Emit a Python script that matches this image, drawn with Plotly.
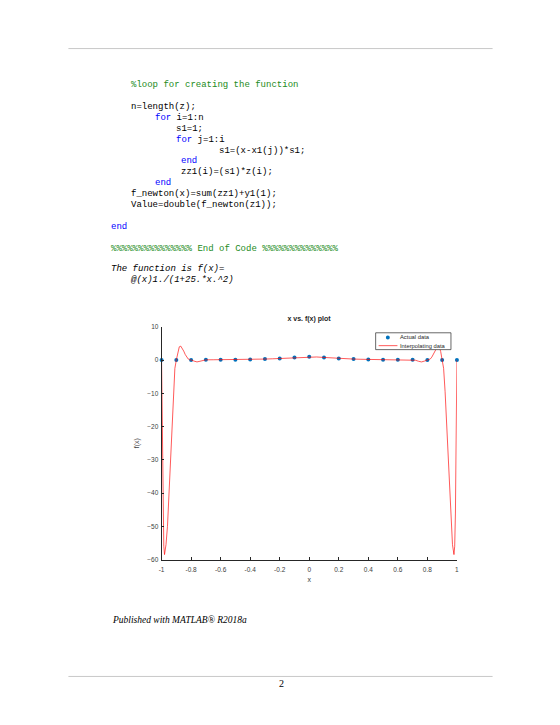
import plotly.graph_objects as go

W, H = 560, 725

# ---------------- data ----------------
x_nodes = [-1.0, -0.9, -0.8, -0.7, -0.6, -0.5, -0.4, -0.3, -0.2, -0.1, 0.0,
           0.1, 0.2, 0.3, 0.4, 0.5, 0.6, 0.7, 0.8, 0.9, 1.0]
y_nodes = [0.0385, 0.0471, 0.0588, 0.0755, 0.1, 0.1379, 0.2, 0.3077, 0.5, 0.8, 1.0,
           0.8, 0.5, 0.3077, 0.2, 0.1379, 0.1, 0.0755, 0.0588, 0.0471, 0.0385]

x_interp = [-1.0, -0.995, -0.99, -0.985, -0.98, -0.97, -0.96, -0.95, -0.94, -0.93,
            -0.92, -0.91, -0.9, -0.89, -0.88, -0.87, -0.86, -0.85, -0.84, -0.83,
            -0.82, -0.81, -0.8, -0.78, -0.76, -0.74, -0.72, -0.7, -0.65, -0.6,
            -0.55, -0.5, -0.45, -0.4, -0.35, -0.3, -0.25, -0.2, -0.15, -0.1,
            -0.05, 0.0, 0.05, 0.1, 0.15, 0.2, 0.25, 0.3, 0.35, 0.4,
            0.45, 0.5, 0.55, 0.6, 0.65, 0.7, 0.72, 0.74, 0.76, 0.78,
            0.8, 0.81, 0.82, 0.83, 0.84, 0.85, 0.86, 0.87, 0.88, 0.89,
            0.9, 0.91, 0.92, 0.93, 0.94, 0.95, 0.96, 0.97, 0.98, 0.985,
            0.99, 0.995, 1.0]
y_interp = [0.04, -28, -46, -56, -58.5, -55.5, -50, -41, -30, -19,
            -9.5, -2.5, 0.05, 2.6, 4.0, 4.2, 3.6, 2.7, 1.7, 0.9,
            0.35, 0.1, 0.06, -0.3, -0.55, -0.35, -0.05, 0.08, 0.1, 0.1,
            0.12, 0.14, 0.16, 0.2, 0.25, 0.31, 0.39, 0.5, 0.64, 0.8,
            0.94, 1.0, 0.94, 0.8, 0.64, 0.5, 0.39, 0.31, 0.25, 0.2,
            0.16, 0.14, 0.12, 0.1, 0.1, 0.08, -0.05, -0.35, -0.55, -0.3,
            0.06, 0.1, 0.35, 0.9, 1.7, 2.7, 3.6, 4.2, 4.0, 2.6,
            0.05, -2.5, -9.5, -19, -30, -41, -50, -55.5, -58.5, -56,
            -46, -28, 0.04]

x_ticks = [-1, -0.8, -0.6, -0.4, -0.2, 0, 0.2, 0.4, 0.6, 0.8, 1]
x_tick_labels = ["-1", "-0.8", "-0.6", "-0.4", "-0.2", "0", "0.2", "0.4", "0.6", "0.8", "1"]
y_ticks = [-60, -50, -40, -30, -20, -10, 0, 10]
legend_names = ["Actual data", "Interpolating data"]

GREEN = "#228B22"
BLUE = "#0000FF"
code_lines = [
    (130, 82, "%loop for creating the function", "green"),
    (130, 104, "n=length(z);", "plain"),
    (154, 115, f'<span style="color:{BLUE}">for</span> i=1:n', "plain"),
    (176, 126, "s1=1;", "plain"),
    (176, 137, f'<span style="color:{BLUE}">for</span> j=1:i', "plain"),
    (219, 148, "s1=(x-x1(j))*s1;", "plain"),
    (181, 159, "end", "blue"),
    (181, 170, "zz1(i)=(s1)*z(i);", "plain"),
    (154, 181, "end", "blue"),
    (130, 192, "f_newton(x)=sum(zz1)+y1(1);", "plain"),
    (130, 203, "Value=double(f_newton(z1));", "plain"),
    (110, 225, "end", "blue"),
    (110, 247, "%%%%%%%%%%%%%%% End of Code %%%%%%%%%%%%%%", "green"),
    (110, 268, "<i>The function is f(x)=</i>", "plain"),
    (130, 279, "<i>@(x)1./(1+25.*x.^2)</i>", "plain"),
]

MARKER_COLOR = "#0072BD"
LINE_COLOR = "rgba(255,0,0,0.65)"

def px(x):
    return x / W

def py(y):
    return 1 - y / H

fig = go.Figure()
fig.add_trace(go.Scatter(
    x=x_nodes, y=y_nodes, mode="markers", name=legend_names[0],
    marker=dict(color=MARKER_COLOR, size=4), cliponaxis=False))
fig.add_trace(go.Scatter(
    x=x_interp, y=y_interp, mode="lines", name=legend_names[1],
    line=dict(color=LINE_COLOR, width=1), cliponaxis=False))

axis_common = dict(
    showgrid=False, zeroline=False, showline=True, linecolor="#262626", linewidth=0.8,
    ticks="inside", ticklen=3, tickcolor="#262626", tickwidth=0.8,
    tickfont=dict(family="Liberation Sans, Arial", size=6.5, color="#404040"),
    mirror=False,
)
fig.update_layout(
    width=W, height=H, margin=dict(l=0, r=0, t=0, b=0),
    paper_bgcolor="white", plot_bgcolor="white",
    xaxis=dict(domain=[px(160), px(458)], range=[-1, 1], tickvals=x_ticks,
               ticktext=x_tick_labels, ticklabelstandoff=4,
               title=dict(text="x", font=dict(family="Liberation Sans, Arial", size=7, color="#404040"),
                          standoff=4),
               **axis_common),
    yaxis=dict(domain=[px(0) + py(561), py(326)], range=[-60, 10], tickvals=y_ticks,
               ticklabelstandoff=1,
               title=dict(text="f(x)", font=dict(family="Liberation Sans, Arial", size=7, color="#404040"),
                          standoff=6),
               **axis_common),
    showlegend=False,
    title=dict(text="<b>x vs. f(x) plot</b>", x=px(309), xanchor="center",
               y=py(319), yanchor="middle",
               font=dict(family="Liberation Sans, Arial", size=7, color="#262626")),
)

# legend (drawn in paper coordinates)
fig.add_shape(type="rect", xref="paper", yref="paper",
              x0=px(376), x1=px(452), y0=py(349), y1=py(332),
              line=dict(color="#262626", width=0.7), fillcolor="white", layer="above")
fig.add_shape(type="circle", xref="paper", yref="paper",
              x0=px(386.3), x1=px(390.3), y0=py(338.7), y1=py(334.7),
              line=dict(width=0), fillcolor=MARKER_COLOR, layer="above")
fig.add_shape(type="line", xref="paper", yref="paper",
              x0=px(379), x1=px(398), y0=py(345), y1=py(345),
              line=dict(color=LINE_COLOR, width=1), layer="above")
for name, ly in zip(legend_names, (336.7, 345)):
    fig.add_annotation(x=px(398.5), y=py(ly), xref="paper", yref="paper",
                       xanchor="left", yanchor="middle", showarrow=False,
                       text=name, font=dict(family="Liberation Sans, Arial", size=5.8, color="#262626"))

for (xp, yp, txt, style) in code_lines:
    color = {"green": GREEN, "blue": BLUE, "plain": "black"}[style]
    fig.add_annotation(x=px(xp - 3), y=py(yp), xref="paper", yref="paper",
                       xanchor="left", yanchor="middle", showarrow=False,
                       text=txt, font=dict(family="Liberation Mono, Courier New, monospace",
                                           size=9, color=color))

fig.add_annotation(x=px(108), y=py(622), xref="paper", yref="paper",
                   xanchor="left", yanchor="middle", showarrow=False,
                   text="<i>Published with MATLAB® R2018a</i>",
                   font=dict(family="Liberation Serif, Times New Roman, serif", size=9.5, color="black"))
fig.add_annotation(x=px(281), y=py(686), xref="paper", yref="paper",
                   xanchor="center", yanchor="middle", showarrow=False,
                   text="2", font=dict(family="Liberation Serif, Times New Roman, serif", size=10, color="black"))

for yy in (45, 679):
    fig.add_shape(type="line", xref="paper", yref="paper",
                  x0=px(66), x1=px(494), y0=py(yy), y1=py(yy),
                  line=dict(color="#c8c8c8", width=1))

fig.write_html("out.html")
